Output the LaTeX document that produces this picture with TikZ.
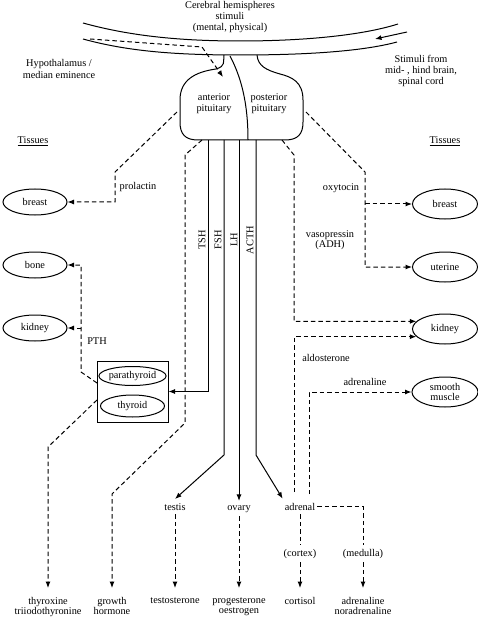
\documentclass[tikz,border=0pt]{standalone}
\usepackage{fontspec}
\setmainfont{Liberation Serif}
\usetikzlibrary{shapes.geometric,arrows.meta,calc}
\begin{document}
\begin{tikzpicture}[x=1pt,y=-1pt,
  every node/.style={font=\fontsize{10.3}{10.6}\selectfont, inner sep=0pt, align=center},
  tis/.style={draw, line width=1pt, ellipse, minimum width=64pt, minimum height=26pt, inner sep=0pt},
  tisr/.style={tis, minimum width=65pt, minimum height=30pt},
  hline/.style={line width=1pt},
  dline/.style={line width=1pt, dash pattern=on 4.5pt off 3pt},
  arr/.style={-{Latex[length=6.5pt,width=5pt]}},
  midlbl/.style={inner xsep=2pt, inner ysep=4pt, anchor=base},
  prod/.style={anchor=north, inner xsep=2pt, inner ysep=9pt},
]
\useasboundingbox (0,0) rectangle (478,620);

% --- hypothalamus band ---
\draw[hline] (83,23) .. controls (130,36) and (180,41) .. (240,41) .. controls (300,41) and (360,36) .. (398,24);
\draw[hline] (83,39) .. controls (130,52) and (180,55) .. (240,55) .. controls (300,55) and (360,52) .. (397,42);

% --- pituitary ---
\draw[hline] (224,55) .. controls (223,62) and (226,66) .. (216,69) .. controls (195,72) and (180,80) .. (180,100) -- (180,122) .. controls (180,134) and (185,140) .. (198,140) -- (285,140) .. controls (298,140) and (303,134) .. (303,122) -- (303,100) .. controls (303,82) and (292,77) .. (280,74) .. controls (266,70) and (258,66) .. (257,55);
\draw[hline] (230,56) .. controls (240,75) and (248,100) .. (248,140);

% --- texts ---
\node[anchor=north] (title) at (230,1.5) {Cerebral hemispheres\\stimuli\\(mental, physical)};
\node (hypo) at (59,69) {Hypothalamus /\\[2pt]median eminence};
\node (stim) at (421,71) {Stimuli from\\mid- , hind brain,\\spinal cord};
\node (ant) at (214,104) {anterior\\pituitary};
\node (post) at (269,104) {posterior\\pituitary};
\node (tisL) at (33,141) {\underline{Tissues}};
\node (tisR) at (445,141) {\underline{Tissues}};

% --- tissues ---
\node[tis] (breastL) at (35,202) {breast};
\node[tis] (boneL) at (35,265) {bone};
\node[tis] (kidneyL) at (35,328) {kidney};
\node[tisr] (breastR) at (445,204) {breast};
\node[tisr] (uterine) at (445,267) {uterine};
\node[tisr] (kidneyR) at (445,329) {kidney};
\node[tisr, minimum width=66pt] (smooth) at (445,392) {smooth\\muscle};

% --- thyroid box ---
\node[draw, line width=1pt, minimum width=71pt, minimum height=61pt] (box) at (132.5,391.5) {};
\node[tis, minimum height=19pt] (parathyroid) at (132.5,376) {parathyroid};
\node[tis, minimum height=22pt] (thyroid) at (132.5,406) {thyroid};

% --- hormone labels ---
\node (prolactin) at (138,187) {prolactin};
\node (pth) at (97,341) {PTH};
\node (oxytocin) at (341,188) {oxytocin};
\node (vaso) at (330,240) {vasopressin\\(ADH)};
\node (aldo) at (326,358) {aldosterone};
\node (adrlbl) at (365,382) {adrenaline};
\node[rotate=90] (tshl) at (202,240) {TSH};
\node[rotate=90] (fshl) at (218,240) {FSH};
\node[rotate=90] (lhl) at (234,240) {LH};
\node[rotate=90] (acthl) at (250,240) {ACTH};

% --- glands ---
\node[midlbl] (testis) at (175,510) {testis};
\node[midlbl] (ovary) at (239,510) {ovary};
\node[midlbl] (adrenal) at (300,510) {adrenal};
\node[midlbl] (cortex) at (300,556) {(cortex)};
\node[midlbl] (medulla) at (363,556) {(medulla)};

% --- products ---
\node[prod] (thyroxine) at (48,588) {thyroxine\\triiodothyronine};
\node[prod] (growth) at (112,588) {growth\\hormone};
\node[prod] (testosterone) at (175,588) {testosterone};
\node[prod] (progesterone) at (239,588) {progesterone\\oestrogen};
\node[prod] (cortisol) at (300,588) {cortisol};
\node[prod] (adrenalineN) at (363,588) {adrenaline\\noradrenaline};

% --- coordinates ---
\coordinate (h0) at (90,39);
\coordinate (h1) at (223,77);
\coordinate (s0) at (407,32);
\coordinate (s1) at (375,39);
\coordinate (pL) at (177,112);
\coordinate (pR) at (306,112);
\coordinate (pBL) at (202,140);
\coordinate (pBR) at (282,140);
\coordinate (tshT) at (208,140);
\coordinate (fshT) at (224,140);
\coordinate (lhT) at (239,140);
\coordinate (acthT) at (256,140);
\coordinate (oxB) at (365,172);
\coordinate (pth0) at (97,383);
\coordinate (pth1) at (81,372);
\coordinate (thx0) at (97,400);
\coordinate (ald0) at (294,492);
\coordinate (adr0) at (309,494);

% --- connectors ---
\draw[dline,arr] (h0) -- (202,47) -- (h1);
\draw[hline,arr] (s0) -- (s1);

\draw[dline,arr] (pL) -- (115,172) |- (breastL.east);
\draw[dline,arr] (pR) -- (oxB) -- (oxB |- uterine.west) -- (uterine.west);
\draw[dline,arr] (oxB |- breastR.west) -- (breastR.west);

\draw[dline,arr] (pBL) -- (185,155) -- (185,423) -- (112,494) -- (growth.north);
\draw[dline,arr] (pBR) -- (294,155) |- (kidneyR.165);
\draw[dline,arr] (ald0) |- (kidneyR.195);
\draw[dline,arr] (adr0) |- (smooth.west);

\draw[dline,arr] (pth0) -- (pth1) |- (boneL.east);
\draw[dline,arr] (pth1 |- kidneyL.east) -- (kidneyL.east);
\draw[dline,arr] (thx0) -- (48,447) -- (thyroxine.north);

\draw[hline,arr] (tshT) |- (box.east);
\draw[hline,arr] (fshT) -- (224,455) -- (testis.north);
\draw[hline,arr] (lhT) -- (ovary.north);
\draw[hline,arr] (acthT) -- (256,455) -- (adrenal.north west);

\draw[dline,arr] (testis.south) -- (testosterone.north);
\draw[dline,arr] (ovary.south) -- (progesterone.north);
\draw[dline] (adrenal.south) -- (cortex.north);
\draw[dline,arr] (cortex.south) -- (cortisol.north);
\draw[dline] (adrenal.east) -| (medulla.north);
\draw[dline,arr] (medulla.south) -- (adrenalineN.north);
\end{tikzpicture}
\end{document}
